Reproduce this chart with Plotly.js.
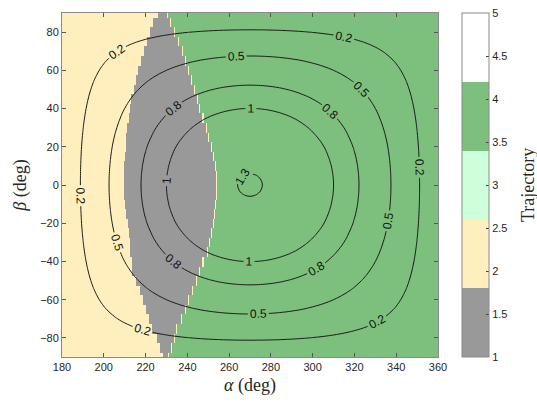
<!DOCTYPE html>
<html>
<head>
<meta charset="utf-8">
<script src="https://cdn.plot.ly/plotly-3.0.1.min.js"></script>
<style>html,body{margin:0;padding:0;background:#fff;}#chart{width:537px;height:405px;}</style>
</head>
<body>
<div id="chart"></div>
<script>
// Contour grid (5 deg steps, finer near the peak)
const alphaGrid = [180,185,190,195,200,205,210,215,220,225,230,235,240,245,250,255,258,260,262,264,266,268,270,272,274,276,278,280,282,285,290,295,300,305,310,315,320,325,330,335,340,345,350,355,360];
const betaGrid = [-90,-85,-80,-75,-70,-65,-60,-55,-50,-45,-40,-35,-30,-25,-20,-15,-12,-10,-8,-6,-4,-2,0,2,4,6,8,10,12,15,20,25,30,35,40,45,50,55,60,65,70,75,80,85,90];
// contoured quantity along alpha (at beta = 0) and relative factor along beta
const alphaProfile = [0,0.114,0.227,0.338,0.447,0.552,0.653,0.749,0.839,0.923,1.000,1.070,1.131,1.184,1.228,1.2625,1.2784,1.2871,1.2943,1.2998,1.3038,1.3062,1.307,1.3062,1.3038,1.2998,1.2943,1.2871,1.2784,1.2625,1.228,1.184,1.131,1.070,1.000,0.923,0.839,0.749,0.653,0.552,0.447,0.338,0.227,0.114,0];
const betaProfile = [0,0.087,0.174,0.259,0.342,0.423,0.5,0.574,0.643,0.707,0.766,0.819,0.866,0.906,0.940,0.966,0.978,0.985,0.990,0.9945,0.9976,0.9994,1,0.9994,0.9976,0.9945,0.990,0.985,0.978,0.966,0.940,0.906,0.866,0.819,0.766,0.707,0.643,0.574,0.5,0.423,0.342,0.259,0.174,0.087,0];
const contourLevelsLow = [0.2, 0.5, 0.8];
const contourLevelsHigh = [1, 1.3];
const peakLabel = '1.3';

// Trajectory class boundaries per beta row (deg of alpha)
const rowBeta = [-90,-85,-80,-75,-70,-65,-60,-55,-50,-45,-40,-35,-30,-25,-20,-15,-10,-5,0,5,10,15,20,25,30,35,40,45,50,55,60,65,70,75,80,85,90];
const grayLeftEdge  = [228.5,227,225.2,223.5,221.8,220.2,218.8,217.3,215.5,214,213.6,213,212.7,212.2,211.7,211,210.5,210,209.8,209.8,210,210.2,210.6,211,211.5,212.1,212.7,213.3,214.2,215.3,216.5,218,219.5,221,222.5,223.8,225.8];
const grayRightEdge = [230.9,232.3,233.6,235,237,238.8,240.5,242.3,244.3,246,247.5,249.3,250.5,251.5,252.2,253,253.4,253.8,254,254,253.3,252.5,251.3,250,248.8,247.5,246,244.8,243.5,242,240.5,239,237.5,236,234,232,230.1];
const classLeft = 2, classMiddle = 1, classRight = 4;

const trajColors = ['#999999','#FFEFBF','#CCFFDA','#7DBF7D','#FFFFFF'];
const cbTicks = [1,1.5,2,2.5,3,3.5,4,4.5,5];

// build heatmap table
const hx = [];
for (let i = 0; i <= 360; i++) hx.push(180 + 0.5*i);
const hz = rowBeta.map((b, r) => hx.map(a => {
  if (a < grayLeftEdge[r]) return classLeft;
  if (a < grayRightEdge[r]) return classMiddle;
  if (a < grayRightEdge[r] + 0.5) return classLeft;
  return classRight;
}));

const cs = [];
trajColors.forEach((c, i) => { cs.push([i/5, c]); cs.push([(i+1)/5, c]); });

const cz = betaProfile.map(b => alphaProfile.map(a => a*b));

const tickFont = {family: 'Liberation Sans, Arial, sans-serif', size: 11, color: '#262626'};
const serif = 'Liberation Serif, Times New Roman, serif';

const heat = {
  type: 'heatmap', x: hx, y: rowBeta, z: hz, zmin: 1, zmax: 5,
  colorscale: cs, zsmooth: false, hoverinfo: 'skip',
  colorbar: {
    x: 1.0638, xanchor: 'left', xpad: 0, ypad: 0, y: 0.5, yanchor: 'middle',
    len: 1, lenmode: 'fraction', thickness: 27, thicknessmode: 'pixels',
    outlinecolor: '#8a8a8a', outlinewidth: 1,
    tickvals: cbTicks, ticktext: cbTicks.map(String), ticks: 'inside', ticklen: 3, tickcolor: '#444',
    tickfont: tickFont
  }
};

// Plotly needs evenly spaced levels; extra empty levels (outside the data range)
// only serve to let Plotly place more labels along each line.
const STEP = 0.3;
function contourTrace(levels, padBelow, padAbove) {
  return {
    type: 'contour', x: alphaGrid, y: betaGrid, z: cz, showscale: false, hoverinfo: 'skip',
    autocontour: false,
    contours: {start: levels[0] - STEP*padBelow, end: levels[levels.length-1] + STEP*padAbove + 0.01, size: STEP,
      coloring: 'none', showlabels: true,
      labelfont: {family: 'Liberation Sans, Arial, sans-serif', size: 12, color: '#111'}, labelformat: '.3~g'},
    line: {color: '#1a1a1a', width: 1, smoothing: 1.3}
  };
}

const layout = {
  width: 537, height: 405,
  margin: {l: 62, r: 99, t: 13, b: 48},
  paper_bgcolor: '#fff', plot_bgcolor: '#fff',
  showlegend: false,
  xaxis: {range: [180, 360], tickvals: [180,200,220,240,260,280,300,320,340,360],
    ticks: 'inside', ticklen: 4, tickcolor: '#555', mirror: 'ticks', showline: true, linecolor: '#8a8a8a', linewidth: 1,
    showgrid: false, zeroline: false, tickfont: tickFont,
    title: {text: '<i>α</i> (deg)', font: {family: serif, size: 18, color: '#262626'}, standoff: 6}},
  yaxis: {range: [-90, 90], tickvals: [-80,-60,-40,-20,0,20,40,60,80],
    ticks: 'inside', ticklen: 4, tickcolor: '#555', mirror: 'ticks', showline: true, linecolor: '#8a8a8a', linewidth: 1,
    showgrid: false, zeroline: false, tickfont: tickFont,
    title: {text: '<i>β</i> (deg)', font: {family: serif, size: 18, color: '#262626'}, standoff: 8}},
  annotations: [
    {text: 'Trajectory', xref: 'paper', yref: 'paper', x: 1.2394, y: 0.5,
      xanchor: 'center', yanchor: 'middle', textangle: -90, showarrow: false,
      font: {family: serif, size: 18, color: '#262626'}},
    {text: peakLabel, xref: 'x', yref: 'y', x: 266.3, y: 4.3, textangle: -58, showarrow: false,
      bgcolor: trajColors[3], borderpad: 0,
      font: {family: 'Liberation Sans, Arial, sans-serif', size: 12, color: '#111'}}
  ]
};

Plotly.newPlot('chart', [heat, contourTrace(contourLevelsLow, 48, 0), contourTrace(contourLevelsHigh, 0, 48)], layout, {displayModeBar: false, staticPlot: true});
</script>
</body>
</html>
